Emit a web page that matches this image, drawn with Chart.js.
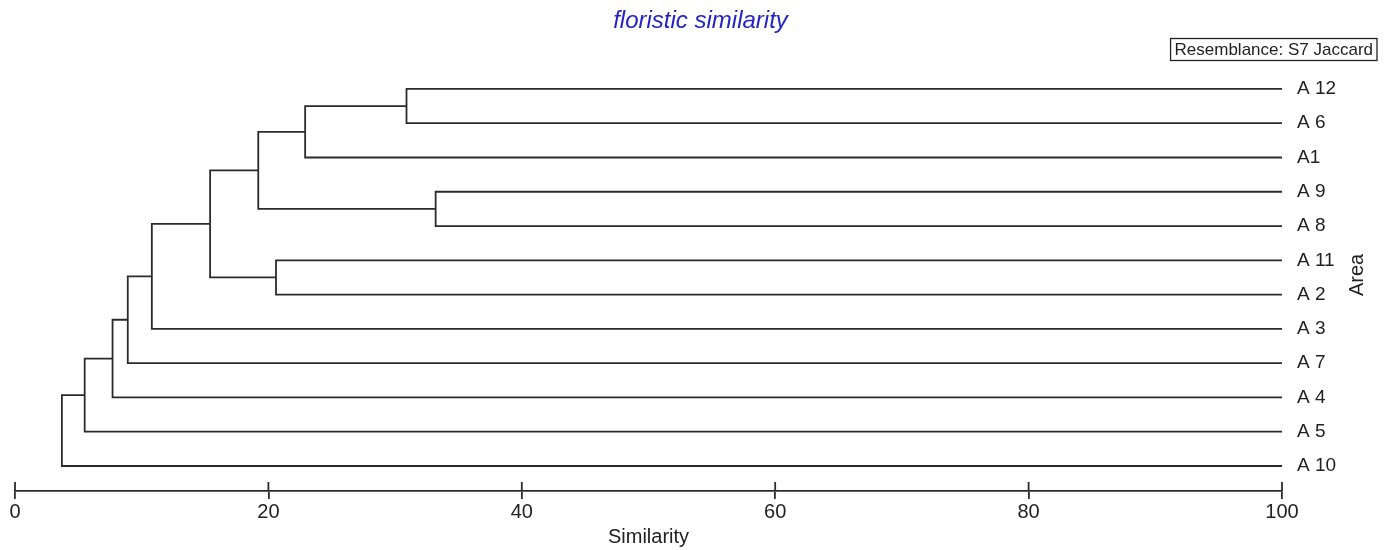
<!DOCTYPE html>
<html lang="en">
<head>
    <meta charset="UTF-8" />
    <title>floristic similarity</title>
    <style>
        * { margin: 0; padding: 0; box-sizing: border-box; }
        body { background: #ffffff; }
        .wrap { width: 1386px; height: 550px; position: relative; }
    </style>
</head>
<body>
    <div class="wrap">
        <canvas id="dendro"></canvas>
    </div>
    <script src="https://cdn.jsdelivr.net/npm/chart.js@4.4.1/dist/chart.umd.min.js"></script>
    <script>
        // leaves, top to bottom
        const leaves = ["A 12", "A 6", "A1", "A 9", "A 8", "A 11", "A 2", "A 3", "A 7", "A 4", "A 5", "A 10"];
        // merges in order; "#k" means the k-th merge
        const mergeLeft = ["A 9", "A 12", "#1", "A 11", "#2", "#4", "#5", "#6", "#7", "#8", "#9"];
        const mergeRight = ["A 8", "A 6", "A1", "A 2", "#0", "#3", "A 3", "A 7", "A 4", "A 5", "A 10"];
        const mergeSimilarity = [33.2, 30.9, 22.9, 20.6, 19.2, 15.4, 10.8, 8.9, 7.7, 5.5, 3.7];
        const xTicks = [0, 20, 40, 60, 80, 100];

        const textColor = "#222222";
        const lineColor = "#2b2b2b";
        Chart.defaults.font.family = "'Liberation Sans', Arial, sans-serif";

        // position of a leaf or a merged node: x = similarity, y = row
        const nodePos = (name) => {
            if (name.startsWith("#")) {
                const k = parseInt(name.slice(1));
                const a = nodePos(mergeLeft[k]);
                const b = nodePos(mergeRight[k]);
                return { x: mergeSimilarity[k], y: (a.y + b.y) / 2 };
            }
            return { x: 100, y: leaves.indexOf(name) };
        };

        const datasets = mergeSimilarity.map((s, k) => {
            const a = nodePos(mergeLeft[k]);
            const b = nodePos(mergeRight[k]);
            return {
                data: [
                    { x: a.x, y: a.y },
                    { x: s, y: a.y },
                    { x: s, y: b.y },
                    { x: b.x, y: b.y },
                ],
                showLine: true,
                borderColor: lineColor,
                borderWidth: 1.8,
                pointRadius: 0,
                fill: false,
            };
        });

        // ticks crossing the axis line, the box and the "Area" label
        const extras = {
            id: "extras",
            afterDraw(chart) {
                const ctx = chart.ctx;
                const xs = chart.scales.x;
                const area = chart.chartArea;
                ctx.save();
                ctx.strokeStyle = lineColor;
                ctx.lineWidth = 1.8;
                xTicks.forEach((v) => {
                    const px = xs.getPixelForValue(v);
                    ctx.beginPath();
                    ctx.moveTo(px, area.bottom - 9);
                    ctx.lineTo(px, area.bottom);
                    ctx.stroke();
                });

                // resemblance box
                ctx.font = "17px 'Liberation Sans', Arial, sans-serif";
                const label = "Resemblance: S7 Jaccard";
                const w = ctx.measureText(label).width + 8;
                const bx = chart.width - 9 - w;
                ctx.lineWidth = 1.3;
                ctx.strokeStyle = textColor;
                ctx.strokeRect(bx, 38.5, w, 22);
                ctx.fillStyle = textColor;
                ctx.textBaseline = "middle";
                ctx.textAlign = "left";
                ctx.fillText(label, bx + 4, 50);

                // y axis title, reading upwards
                ctx.font = "20px 'Liberation Sans', Arial, sans-serif";
                ctx.translate(area.right + 75, chart.height / 2);
                ctx.rotate(-Math.PI / 2);
                ctx.textAlign = "center";
                ctx.fillText("Area", 0, 0);
                ctx.restore();
            },
        };

        new Chart(document.getElementById("dendro"), {
            type: "scatter",
            data: { datasets },
            plugins: [extras],
            options: {
                responsive: true,
                maintainAspectRatio: false,
                animation: false,
                layout: { padding: { left: 15, right: 0, top: 0, bottom: 0 } },
                plugins: {
                    legend: { display: false },
                    tooltip: { enabled: false },
                    title: {
                        display: true,
                        text: "floristic similarity",
                        color: "#2424c4",
                        font: { size: 24, style: "italic", weight: "normal" },
                        padding: { top: 7, bottom: 36 },
                    },
                },
                scales: {
                    x: {
                        type: "linear",
                        position: "bottom",
                        min: 0,
                        max: 100,
                        afterBuildTicks: (scale) => { scale.ticks = xTicks.map((v) => ({ value: v })); },
                        afterFit: (scale) => { scale.height = 59; },
                        grid: { drawOnChartArea: false, drawTicks: true, tickLength: 8, color: lineColor, lineWidth: 1.8 },
                        border: { display: true, color: lineColor, width: 1.8 },
                        ticks: { color: textColor, font: { size: 20 }, padding: 1, maxRotation: 0 },
                        title: {
                            display: true,
                            text: "Similarity",
                            color: textColor,
                            font: { size: 20 },
                            padding: { top: 0, bottom: 1 },
                        },
                    },
                    y: {
                        type: "linear",
                        position: "right",
                        reverse: true,
                        min: -0.5,
                        max: 11.73,
                        afterBuildTicks: (scale) => { scale.ticks = leaves.map((_, i) => ({ value: i })); },
                        afterFit: (scale) => { scale.width = 104; },
                        grid: { display: false, drawTicks: false },
                        border: { display: false },
                        ticks: {
                            color: textColor,
                            font: { size: 19 },
                            padding: 15,
                            callback: (v) => leaves[v] ?? "",
                        },
                    },
                },
            },
        });
    </script>
</body>
</html>
